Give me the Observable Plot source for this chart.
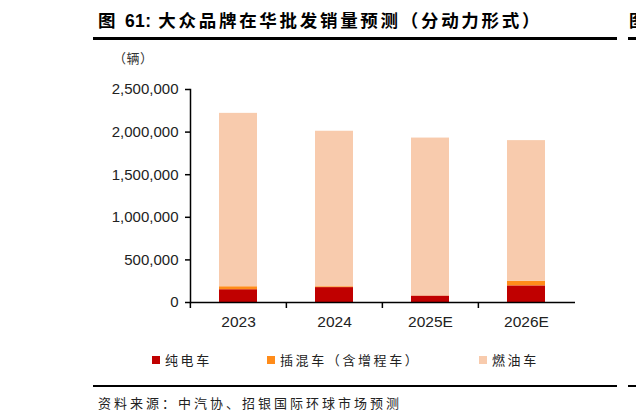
<!DOCTYPE html>
<html>
<head>
<meta charset="utf-8">
<script src="https://cdn.jsdelivr.net/npm/d3@7"></script>
<script src="https://cdn.jsdelivr.net/npm/@observablehq/plot@0.6"></script>
<style>
  html, body { margin: 0; padding: 0; background: #fff; }
  #wrap { position: relative; width: 636px; height: 420px; overflow: hidden; background: #fff;
          font-family: "Noto Sans CJK SC", "Noto Sans", sans-serif; color: #000; }
  .abs { position: absolute; white-space: nowrap; }
  #title { left: 98px; top: 7px; font-size: 17.5px; font-weight: bold; letter-spacing: 2.7px; line-height: 26px; }
  #title .num { font-family: "Liberation Sans", Arial, sans-serif; letter-spacing: 0.5px; }
  .rule { position: absolute; background: #000; }
  #unit { left: 113px; top: 48px; font-size: 13px; color: #333; line-height: 20px; letter-spacing: 0.5px; }
  #chart { position: absolute; left: 0; top: 70px; }
  .leg { position: absolute; top: 350px; font-size: 13px; letter-spacing: 2.6px; color: #222; line-height: 20px; white-space: nowrap; }
  .sw { position: absolute; width: 8px; height: 8px; top: 6px; }
  #source { left: 98px; top: 393px; font-size: 13px; letter-spacing: 3px; color: #222; line-height: 20px; }
</style>
</head>
<body>
<div id="wrap">
  <div id="title" class="abs">图 <span class="num">61:</span> 大众品牌在华批发销量预测（分动力形式）</div>
  <div class="rule" style="left:93px; top:37px; width:524px; height:3px;"></div>
  <div class="abs" style="left:629px; top:7px; font-size:17px; font-weight:bold; line-height:26px;">图</div>
  <div class="rule" style="left:628px; top:37px; width:10px; height:3px;"></div>
  <div id="unit" class="abs">（辆）</div>
  <div id="chart"></div>
  <div id="legend"></div>
  <div class="rule" style="left:93px; top:384.5px; width:524px; height:2.5px;"></div>
  <div class="rule" style="left:628px; top:384.5px; width:10px; height:2.5px;"></div>
  <div id="source" class="abs">资料来源：中汽协、招银国际环球市场预测</div>
</div>
<script>
// ---- data ----
const years = ["2023", "2024", "2025E", "2026E"];
const types = ["纯电车", "插混车（含增程车）", "燃油车"];
const bev  = [150000, 175000, 75000, 195000];
const phev = [35000, 10000, 3000, 55000];
const ice  = [2035000, 1825000, 1852000, 1650000];
const yTicks = [0, 500000, 1000000, 1500000, 2000000, 2500000];
const colors = ["#C00000", "#FF8C1A", "#F8CBAD"];

const series = [bev, phev, ice];
const data = [];
years.forEach((yr, i) => {
  types.forEach((t, k) => data.push({year: yr, type: t, value: series[k][i]}));
});

const W = 636, H = 270, mL = 190, mR = 61, mT = 19, mB = 38;
const step = (W - mL - mR) / years.length;

const chart = Plot.plot({
  width: W, height: H,
  marginLeft: mL, marginRight: mR, marginTop: mT, marginBottom: mB,
  style: { fontFamily: "'Liberation Sans', Arial, sans-serif", color: "#222", background: "#fff" },
  x: { type: "band", domain: years, paddingInner: 0.6, paddingOuter: 0.3, label: null },
  y: { domain: [0, 2500000], label: null },
  color: { domain: types, range: colors },
  marks: [
    Plot.barY(data, { x: "year", y: "value", fill: "type", order: types }),
    Plot.ruleY([0], { stroke: "#000", strokeWidth: 1.5 }),
    Plot.frame({ anchor: "left", stroke: "#000", strokeWidth: 1.5 }),
    Plot.ruleX(years, { x: d => d, y1: 0, y2: 0, insetBottom: -6, dx: -step / 2, stroke: "#000", strokeWidth: 1.5 }),
    Plot.axisY({ ticks: yTicks, tickFormat: d3.format(","), tickSize: 5, tickPadding: 7, fontSize: 15, stroke: "#000", strokeWidth: 1.5, label: null }),
    Plot.axisX({ tickSize: 0, tickPadding: 13, fontSize: 15.5, label: null })
  ]
});
document.getElementById("chart").appendChild(chart);

// ---- legend ----
const legX = [152, 267, 479];
const legend = document.getElementById("legend");
types.forEach((t, k) => {
  const item = document.createElement("div");
  item.className = "leg";
  item.style.left = legX[k] + "px";
  item.innerHTML = `<span class="sw" style="left:0; background:${colors[k]}"></span><span style="margin-left:13px">${t}</span>`;
  legend.appendChild(item);
});
</script>
</body>
</html>
